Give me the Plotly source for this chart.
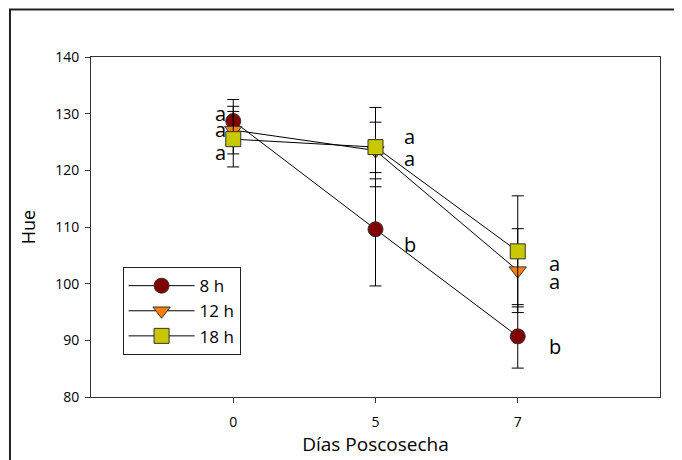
import plotly.graph_objects as go

days = ["0", "5", "7"]
series_names = ["8 h", "12 h", "18 h"]
hue_8h = [128.7, 109.6, 90.7]
err_8h = [3.8, 10.0, 5.6]
hue_12h = [127.1, 123.5, 102.3]
err_12h = [4.2, 5.0, 7.4]
hue_18h = [125.5, 124.1, 105.7]
err_18h = [4.9, 7.0, 9.8]

letters_8h = ["a", "b", "b"]
letters_12h = ["a", "a", "a"]
letters_18h = ["a", "a", "a"]
letter_y_8h = [130.0, 106.9, 89.0]
letter_y_12h = [127.2, 122.1, 100.3]
letter_y_18h = [123.2, 125.9, 103.5]
letter_dx = [-0.09, 0.24, 0.26]

colors = ["#800000", "#FF8000", "#C8C800"]
symbols = ["circle", "triangle-down", "square"]

FONT = "Open Sans"

fig = go.Figure()
for name, ys, es, col, sym in zip(series_names, [hue_8h, hue_12h, hue_18h],
                                  [err_8h, err_12h, err_18h], colors, symbols):
    fig.add_trace(go.Scatter(
        x=days, y=ys, name=name, mode="lines+markers",
        line=dict(color="black", width=1),
        marker=dict(symbol=sym, size=15, color=col, line=dict(color="#333333", width=1)),
        error_y=dict(type="data", array=es, visible=True, color="black", thickness=1, width=6),
    ))

for lets, lys in [(letters_8h, letter_y_8h), (letters_12h, letter_y_12h), (letters_18h, letter_y_18h)]:
    for i, (t, yv) in enumerate(zip(lets, lys)):
        fig.add_annotation(x=i + letter_dx[i], y=yv, text=t, showarrow=False,
                           font=dict(family=FONT, size=20, color="black"),
                           xref="x", yref="y")

# outer frame
fig.add_shape(type="rect", xref="paper", yref="paper",
              x0=-0.1424, x1=1.3, y0=-0.4, y1=1.14,
              line=dict(color="#222222", width=2), fillcolor="rgba(0,0,0,0)", layer="below")

fig.update_layout(
    width=682, height=460,
    margin=dict(l=83, r=30, t=49, b=71),
    paper_bgcolor="white", plot_bgcolor="white",
    font=dict(family=FONT, color="black"),
    showlegend=True,
    legend=dict(x=0.0555, y=0.382, xanchor="left", yanchor="top",
                bordercolor="#222222", borderwidth=1, bgcolor="white",
                font=dict(family=FONT, size=17), itemwidth=66,
                tracegroupgap=0),
    xaxis=dict(type="category", range=[-1, 3], showgrid=False, zeroline=False,
               showline=True, linecolor="#333333", linewidth=1, mirror=True,
               ticks="outside", ticklen=5, tickcolor="#333333", ticklabelstandoff=7,
               tickfont=dict(family=FONT, size=14),
               title=dict(text="Días Poscosecha", font=dict(family=FONT, size=19), standoff=3)),
    yaxis=dict(range=[80, 140], dtick=10, showgrid=False, zeroline=False,
               showline=True, linecolor="#333333", linewidth=1, mirror=True,
               ticks="outside", ticklen=5, tickcolor="#333333", ticklabelstandoff=3,
               tickfont=dict(family=FONT, size=14),
               title=dict(text="Hue", font=dict(family=FONT, size=18), standoff=14)),
)

fig.write_html("out.html")
